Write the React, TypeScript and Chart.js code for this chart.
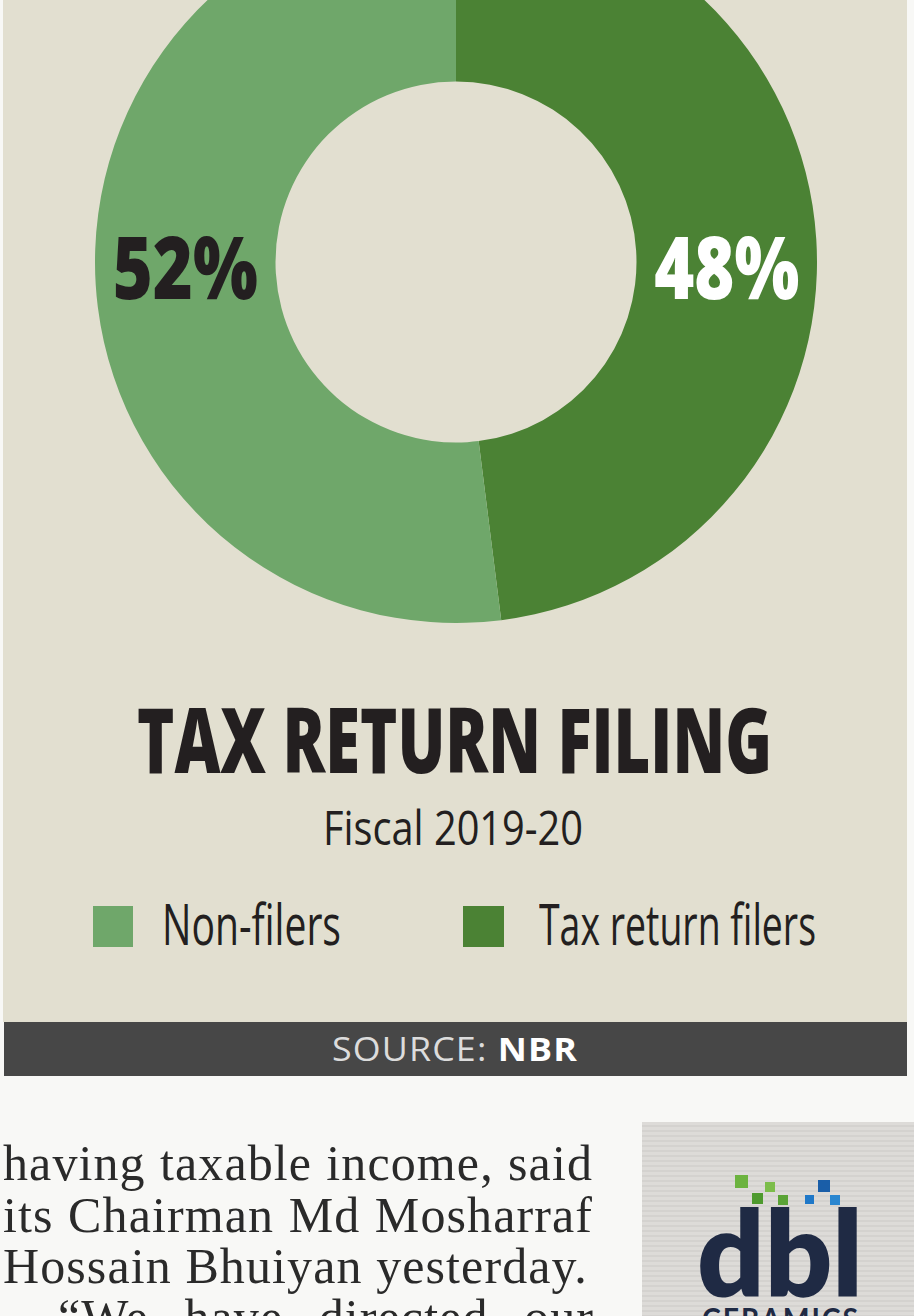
import React, { useEffect, useLayoutEffect, useRef } from "react";
import { Chart, registerables } from "chart.js";

Chart.register(...registerables);

// ---- data (legend order) ----
const categories = ["Non-filers", "Tax return filers"];
const shares = [52, 48];
const sliceColors = ["#6fa76a", "#4b8234"];
const labelColors = ["#231f20", "#ffffff"];
const chartTitle = "TAX RETURN FILING";
const chartSubtitle = "Fiscal 2019-20";
const sourceLabel = "SOURCE:";
const sourceName = "NBR";
const articleLines = [
  "having taxable income, said",
  "its Chairman Md Mosharraf",
  "Hossain Bhuiyan yesterday.",
  "\u201CWe have directed our",
];

// chart draws filers first (clockwise from the top)
const chartCategories = categories.slice().reverse();
const chartShares = shares.slice().reverse();
const chartColors = sliceColors.slice().reverse();
const chartLabelColors = labelColors.slice().reverse();

const LABEL_FONT = 87;
const LABEL_WIDTH = 145;
const LABEL_BASELINE_OFFSET = 37;

const sliceLabelPlugin = {
  id: "sliceLabels",
  afterDatasetsDraw(chart: any) {
    const meta = chart.getDatasetMeta(0);
    const ds = chart.data.datasets[0];
    const ctx: CanvasRenderingContext2D = chart.ctx;
    meta.data.forEach((arc: any, i: number) => {
      const p = arc.getProps(
        ["x", "y", "startAngle", "endAngle", "innerRadius", "outerRadius"],
        true
      );
      const mid = (p.startAngle + p.endAngle) / 2;
      const side = Math.cos(mid) >= 0 ? 1 : -1;
      const r = (p.innerRadius + p.outerRadius) / 2;
      const cx = p.x + side * r;
      const by = p.y + LABEL_BASELINE_OFFSET;
      const text = `${ds.data[i]}%`;
      ctx.save();
      ctx.font = `800 ${LABEL_FONT}px 'Open Sans'`;
      const w = ctx.measureText(text).width;
      ctx.translate(cx, by);
      ctx.scale(LABEL_WIDTH / w, 1);
      ctx.fillStyle = chartLabelColors[i];
      ctx.textAlign = "center";
      ctx.textBaseline = "alphabetic";
      ctx.fillText(text, 0, 0);
      ctx.restore();
    });
  },
};

type FitProps = {
  left: number;
  top: number;
  width: number;
  size: number;
  weight?: number;
  color: string;
  family: string;
  letterSpacing?: number;
  children: React.ReactNode;
};

function FitText({ left, top, width, size, weight = 400, color, family, letterSpacing = 0, children }: FitProps) {
  const ref = useRef<HTMLSpanElement>(null);
  useLayoutEffect(() => {
    const el = ref.current;
    if (!el) return;
    el.style.transform = "none";
    const w = el.getBoundingClientRect().width;
    if (w > 0) el.style.transform = `scaleX(${width / w})`;
  });
  return (
    <span
      ref={ref}
      style={{
        position: "absolute",
        left,
        top,
        fontSize: size,
        lineHeight: `${size}px`,
        fontWeight: weight,
        color,
        fontFamily: family,
        whiteSpace: "nowrap",
        transformOrigin: "0 0",
        letterSpacing,
      }}
    >
      {children}
    </span>
  );
}

const OPEN = "'Open Sans', 'DejaVu Sans', sans-serif";
const SERIF = "'Liberation Serif', 'DejaVu Serif', serif";

export default function App() {
  const canvasRef = useRef<HTMLCanvasElement>(null);

  useEffect(() => {
    const canvas = canvasRef.current;
    if (!canvas) return;
    const chart = new Chart(canvas, {
      type: "doughnut",
      data: {
        labels: chartCategories,
        datasets: [
          {
            data: chartShares,
            backgroundColor: chartColors,
            borderWidth: 0,
          },
        ],
      },
      options: {
        responsive: false,
        animation: false,
        cutout: "50%",
        events: [],
        layout: { padding: 0 },
        plugins: {
          legend: { display: false },
          tooltip: { enabled: false },
        },
      },
      plugins: [sliceLabelPlugin],
    });
    return () => chart.destroy();
  }, []);

  const legendPos = [
    { sq: { left: 93, width: 40 }, text: { left: 162, width: 179 } },
    { sq: { left: 463, width: 41 }, text: { left: 539, width: 277 } },
  ];
  const lineTops = [1138, 1190, 1241, 1292];

  return (
    <div
      style={{
        position: "absolute",
        left: 0,
        top: 0,
        width: 914,
        height: 1316,
        overflow: "hidden",
        background: "#f8f8f6",
      }}
    >
      {/* beige panel */}
      <div
        style={{
          position: "absolute",
          left: 3,
          top: 0,
          width: 904,
          height: 1022,
          background: "#e2dfd0",
        }}
      />
      <canvas
        ref={canvasRef}
        width={722}
        height={722}
        style={{ position: "absolute", left: 95, top: -99, width: 722, height: 722 }}
      />

      <FitText left={137} top={693} width={635} size={90} weight={800} color="#231f20" family={OPEN}>
        {chartTitle}
      </FitText>
      <FitText left={323} top={803} width={260} size={48} color="#231f20" family={OPEN}>
        {chartSubtitle}
      </FitText>

      {categories.map((c, i) => (
        <React.Fragment key={c}>
          <div
            style={{
              position: "absolute",
              left: legendPos[i].sq.left,
              top: 906,
              width: legendPos[i].sq.width,
              height: 41,
              background: sliceColors[i],
            }}
          />
          <FitText
            left={legendPos[i].text.left}
            top={895}
            width={legendPos[i].text.width}
            size={56}
            color="#231f20"
            family={OPEN}
          >
            {c}
          </FitText>
        </React.Fragment>
      ))}

      {/* source bar */}
      <div
        style={{
          position: "absolute",
          left: 4,
          top: 1022,
          width: 903,
          height: 54,
          background: "#474747",
        }}
      />
      <FitText left={332} top={1033} width={246} size={32} color="#dcdcdc" family={OPEN} letterSpacing={1}>
        <span>{sourceLabel} </span>
        <span style={{ fontWeight: 700, color: "#ffffff" }}>{sourceName}</span>
      </FitText>

      {/* article text */}
      {articleLines.map((line, i) => {
        const justify = i !== 2;
        const left = i === 3 ? 58 : 3;
        const width = i === 3 ? 536 : 590;
        return (
          <div
            key={i}
            style={{
              position: "absolute",
              left,
              top: lineTops[i],
              width,
              fontFamily: SERIF,
              fontSize: 50,
              lineHeight: "50px",
              letterSpacing: 1.1,
              color: "#2a2a2a",
              whiteSpace: "nowrap",
              textAlign: justify ? "justify" : "left",
              textAlignLast: justify ? "justify" : "left",
            } as React.CSSProperties}
          >
            {line}
          </div>
        );
      })}

      {/* logo */}
      <div
        style={{
          position: "absolute",
          left: 642,
          top: 1122,
          width: 272,
          height: 200,
          background:
            "repeating-linear-gradient(180deg, #dddbd8 0px, #dddbd8 3px, #d4d2cf 3px, #d4d2cf 5px)",
        }}
      />
      {[
        [735, 1175, 13, "#6cb33f"],
        [752, 1193, 11, "#4e9a2e"],
        [765, 1182, 10, "#7cbd4a"],
        [778, 1195, 10, "#5aa336"],
        [805, 1195, 9, "#1f78c8"],
        [818, 1180, 12, "#1a5ea8"],
        [830, 1195, 10, "#2a86d0"],
      ].map(([x, y, s, c], i) => (
        <div
          key={i}
          style={{
            position: "absolute",
            left: x as number,
            top: y as number,
            width: s as number,
            height: s as number,
            background: c as string,
          }}
        />
      ))}
      <FitText left={697} top={1192} width={166} size={119} weight={800} color="#1f2a44" family="Lato, 'Open Sans', sans-serif">
        dbl
      </FitText>
      <FitText left={702} top={1303} width={158} size={30} weight={700} color="#1f2a44" family="Lato, 'Open Sans', sans-serif" letterSpacing={2}>
        CERAMICS
      </FitText>
    </div>
  );
}
